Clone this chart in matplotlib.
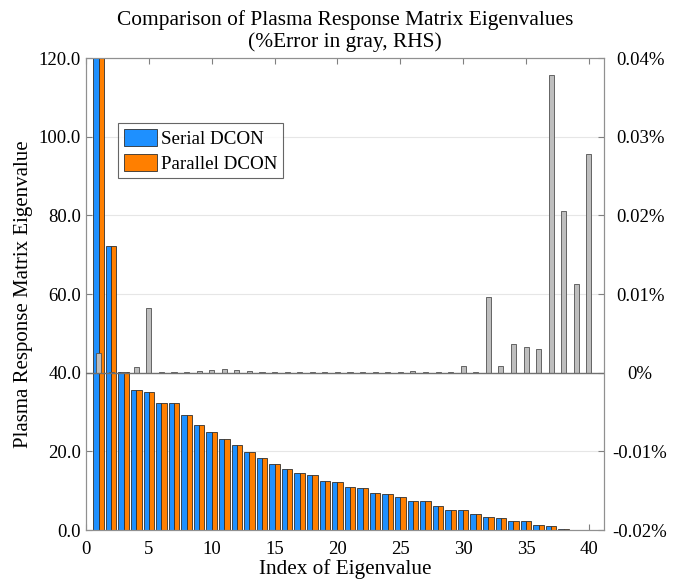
import numpy as np
import matplotlib
matplotlib.use("Agg")
import matplotlib.pyplot as plt
from matplotlib.ticker import FuncFormatter

plt.rcParams['font.family'] = ['Liberation Serif', 'DejaVu Serif']

# eigenvalue index
idx = np.arange(1, 41)
# eigenvalues (serial / parallel are almost identical)
serial = [160.0, 72.3, 40.2, 35.7, 35.2, 32.3, 32.2, 29.2, 26.7, 24.8,
          23.1, 21.6, 19.9, 18.3, 16.8, 15.5, 14.4, 14.1, 12.5, 12.1,
          11.0, 10.6, 9.3, 9.2, 8.3, 7.3, 7.3, 6.2, 5.2, 5.2,
          4.2, 3.3, 3.1, 2.4, 2.2, 1.4, 1.0, 0.25, 0.05, 0.05]
parallel = [160.0, 72.3, 40.2, 35.7, 35.2, 32.3, 32.2, 29.2, 26.7, 24.8,
            23.1, 21.6, 19.9, 18.3, 16.8, 15.5, 14.4, 14.1, 12.5, 12.1,
            11.0, 10.6, 9.3, 9.2, 8.3, 7.3, 7.3, 6.2, 5.2, 5.2,
            4.2, 3.3, 3.1, 2.4, 2.2, 1.4, 1.0, 0.25, 0.05, 0.05]
# percent error (in %)
pct_err = [0.0025, 0.0001, 0.0001, 0.0007, 0.0082, 0.0001, 0.0001, 0.0001, 0.0002, 0.0003,
           0.0005, 0.0004, 0.0002, 0.0001, 0.0001, 0.0001, 0.0001, 0.0001, 0.0001, 0.0001,
           0.0001, 0.0001, 0.0001, 0.0001, 0.0001, 0.0002, 0.0001, 0.0001, 0.0001, 0.0008,
           0.0001, 0.0096, 0.0009, 0.0036, 0.0033, 0.0030, 0.0378, 0.0206, 0.0113, 0.0278]

fig = plt.figure(figsize=(6.89, 5.82), dpi=100)
ax = fig.add_axes([0.1248, 0.0893, 0.7518, 0.811])

w = 0.42
ax.bar(idx - w / 2, serial, width=w, color='#1E90FF', edgecolor='#303030',
       linewidth=0.6, label='Serial DCON', zorder=2)
ax.bar(idx + w / 2, parallel, width=w, color='#FF7F00', edgecolor='#303030',
       linewidth=0.6, label='Parallel DCON', zorder=2)
ax.set_xlim(0, 41.2)
ax.set_ylim(0, 120)
ax.set_yticks(np.arange(0, 121, 20))
ax.yaxis.set_major_formatter(FuncFormatter(lambda v, p: f'{v:.1f}'))
ax.set_xticks(np.arange(0, 41, 5))
ax.grid(axis='y', color='#e6e6e6', linewidth=0.8, zorder=0)
ax.set_axisbelow(True)
ax.tick_params(direction='in', length=4, color='#808080', labelsize=13.5, top=True)
ax.tick_params(axis='x', pad=8)
for s in ax.spines.values():
    s.set_color('#909090')

ax.set_xlabel('Index of Eigenvalue', fontsize=15.3, labelpad=1)
ax.set_ylabel('Plasma Response Matrix Eigenvalue', fontsize=15, labelpad=4)
ax.set_title('Comparison of Plasma Response Matrix Eigenvalues\n(%Error in gray, RHS)',
             fontsize=15.4, pad=8, linespacing=1.15)

leg = ax.legend(loc='upper left', bbox_to_anchor=(0.062, 0.862), fontsize=13.7,
                frameon=True, fancybox=False, edgecolor='#404040', borderpad=0.3,
                handlelength=1.75, handleheight=1.0, handletextpad=0.2,
                labelspacing=0.3, borderaxespad=0)
leg.get_frame().set_linewidth(0.8)

ax2 = ax.twinx()
ax2.bar(idx, pct_err, width=0.4, color='#BEBEBE', edgecolor='#505050',
        linewidth=0.6, zorder=3)
ax2.axhline(0, color='#707070', linewidth=1.0, zorder=4)
ax2.set_ylim(-0.02, 0.04)
ax2.set_yticks(np.arange(-0.02, 0.0401, 0.01))
ax2.yaxis.set_major_formatter(FuncFormatter(
    lambda v, p: '0%' if abs(v) < 1e-9 else f'{v:.2f}%'))
ax2.tick_params(direction='in', length=4, color='#808080', labelsize=13.5, pad=26)
for lab in ax2.get_yticklabels():
    lab.set_horizontalalignment('center')
for s in ax2.spines.values():
    s.set_color('#909090')

fig.savefig('out.png', dpi=100)
